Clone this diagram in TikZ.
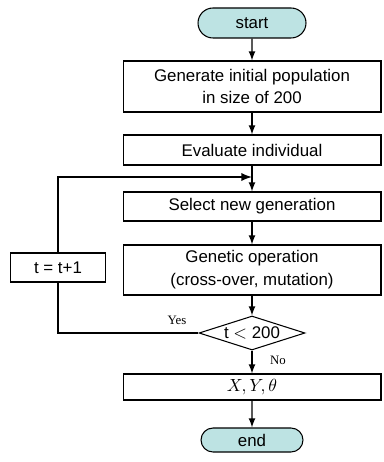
\documentclass[tikz,border=0pt]{standalone}
\usepackage{fontspec}
\setmainfont{Liberation Sans}
\newfontfamily\labelfont{Liberation Serif}
\usepackage{tikz}
\usetikzlibrary{shapes, shapes.geometric, shapes.misc}

\definecolor{termfill}{HTML}{BDE3E3}

\tikzset{
	procbox/.style={draw, rectangle, line width=0.6pt, minimum width=5.16cm, minimum height=#1,
		inner sep=0pt, align=center, font=\fontsize{9.6}{13}\selectfont},
	procbox/.default=0.6cm,
	termbox/.style={draw, rounded rectangle, fill=termfill, line width=0.6pt,
		minimum width=#1, inner sep=0pt, font=\fontsize{9.6}{12}\selectfont},
	flow/.style={->, >=latex, line width=0.8pt},
	loopline/.style={->, >=latex, line width=1.1pt},
	answer/.style={font=\labelfont\fontsize{7.3}{9}\selectfont}
}

\begin{document}
\begin{tikzpicture}[x=0.02cm, y=-0.02cm]
	\def \col {252}

	\useasboundingbox (0,0) rectangle (383,462);

	\node[termbox=2.16cm, minimum height=0.6cm] (start) at (\col,23) {start};
	\node[procbox=1.02cm] (init) at (\col,86.5)
		{Generate initial population\\in size of 200};
	\node[procbox=0.6cm] (evaluate) at (\col,150) {Evaluate individual};
	\node[procbox=0.58cm] (select) at (\col,206.5) {Select new generation};
	\node[procbox=1cm] (genetic) at (\col,270)
		{Genetic operation\\(cross-over, mutation)};
	\node[draw, diamond, shape aspect=3.1, line width=0.6pt, minimum width=2.12cm,
		minimum height=0.68cm, inner sep=0pt, font=\fontsize{9.6}{12}\selectfont]
		(test) at (\col,333) {t $<$ 200};
	\node[procbox=0.58cm, minimum width=1.9cm] (increment) at (58,267.5) {t = t+1};
	\node[procbox=0.52cm] (result) at (\col,387) {$X,Y,\theta$};
	\node[termbox=2.04cm, minimum height=0.48cm] (end) at (\col,440) {end};

	\coordinate (merge) at (\col,177);

	\draw[flow] (start) -- (init);
	\draw[flow] (init) -- (evaluate);
	\draw[flow] (evaluate) -- (select);
	\draw[flow] (select) -- (genetic);
	\draw[flow] (genetic) -- (test);
	\draw[flow] (test) -- (result);
	\draw[flow] (result) -- (end);

	% loop back
	\draw[line width=1.1pt] (test.west) -| (increment.south);
	\draw[loopline] (increment.north) |- (merge);

	\node[answer] (yes) at (177,320) {Yes};
	\node[answer] (no) at (278,360) {No};
\end{tikzpicture}
\end{document}
